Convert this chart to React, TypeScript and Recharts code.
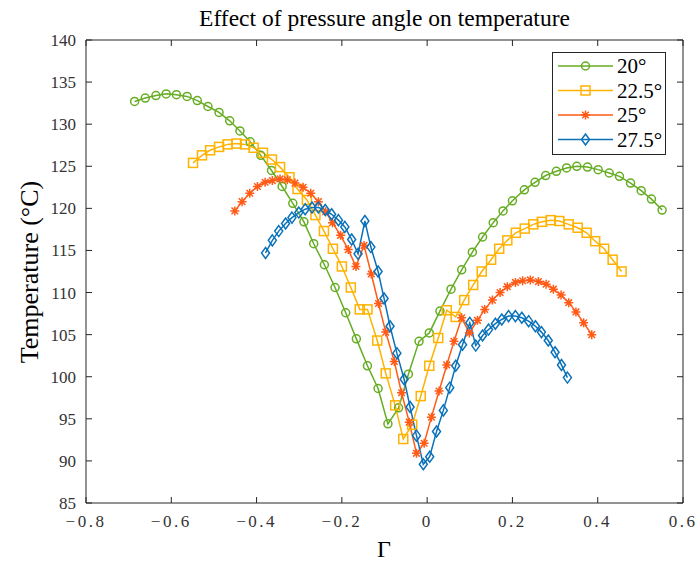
import { LineChart, Line, XAxis, YAxis, Legend } from "recharts";

// Γ values and temperatures (°C), one pair of arrays per pressure angle
const gamma20 = [
  -0.686, -0.661, -0.636, -0.612, -0.588, -0.563, -0.539, -0.514, -0.488, -0.463, -0.439, -0.415, -0.39,
  -0.365, -0.34, -0.315, -0.289, -0.266, -0.241, -0.216, -0.191, -0.166, -0.14, -0.115, -0.092, -0.067,
  -0.044, -0.019, 0.005, 0.03, 0.056, 0.081, 0.106, 0.13, 0.155, 0.178, 0.2, 0.228, 0.253, 0.278, 0.303,
  0.327, 0.351, 0.376, 0.401, 0.427, 0.451, 0.477, 0.502, 0.526, 0.551,
];
const temp20 = [
  132.7, 133.1, 133.4, 133.6, 133.5, 133.3, 132.8, 132.1, 131.4, 130.4, 129.2, 127.9, 126.3, 124.5, 122.6,
  120.6, 118.4, 115.8, 113.3, 110.6, 107.6, 104.5, 101.3, 98.6, 94.4, 96.3, 100.3, 104.2, 105.2, 107.8,
  110.4, 112.7, 114.8, 116.6, 118.3, 119.7, 120.9, 122.2, 123.1, 123.9, 124.4, 124.8, 125.0, 124.9, 124.6,
  124.2, 123.8, 123.0, 122.1, 121.1, 119.8,
];

const gamma225 = [
  -0.549, -0.528, -0.509, -0.488, -0.468, -0.447, -0.427, -0.407, -0.385, -0.364, -0.345, -0.323, -0.304,
  -0.282, -0.262, -0.242, -0.221, -0.2, -0.179, -0.158, -0.14, -0.117, -0.097, -0.075, -0.056, -0.035,
  -0.015, 0.005, 0.026, 0.046, 0.067, 0.087, 0.108, 0.128, 0.15, 0.169, 0.188, 0.208, 0.229, 0.249, 0.269,
  0.29, 0.31, 0.332, 0.353, 0.374, 0.394, 0.415, 0.435, 0.456,
];
const temp225 = [
  125.4, 126.3, 126.9, 127.3, 127.6, 127.7, 127.6, 127.2, 126.6, 125.8, 124.9, 123.7, 122.3, 121.0, 119.2,
  117.3, 115.2, 113.1, 110.6, 108.0, 108.0, 104.3, 100.4, 96.6, 92.6, 94.3, 97.7, 101.3, 104.6, 107.9,
  107.1, 109.1, 110.9, 112.5, 113.9, 115.2, 116.2, 117.1, 117.6, 118.1, 118.4, 118.6, 118.5, 118.1, 117.7,
  117.1, 116.1, 115.2, 113.9, 112.5,
];

const gamma25 = [
  -0.451, -0.434, -0.416, -0.398, -0.38, -0.363, -0.345, -0.328, -0.31, -0.291, -0.273, -0.255, -0.238,
  -0.222, -0.203, -0.185, -0.167, -0.148, -0.131, -0.114, -0.097, -0.077, -0.06, -0.042, -0.025, -0.007,
  0.01, 0.028, 0.046, 0.063, 0.081, 0.099, 0.118, 0.135, 0.153, 0.171, 0.188, 0.207, 0.224, 0.242, 0.261,
  0.279, 0.296, 0.314, 0.332, 0.349, 0.367, 0.386,
];
const temp25 = [
  119.7, 120.8, 121.8, 122.6, 123.1, 123.3, 123.5, 123.4, 123.0, 122.5, 121.8, 120.8, 119.6, 118.3, 116.8,
  115.1, 113.1, 115.6, 112.2, 108.7, 105.3, 101.8, 98.1, 94.6, 90.9, 92.1, 95.2, 98.3, 101.4, 104.2, 107.0,
  105.2, 106.7, 108.0, 109.1, 110.0, 110.7, 111.2, 111.4, 111.5, 111.3, 111.0, 110.4, 109.7, 108.8, 107.7,
  106.4, 105.0,
];

const gamma275 = [
  -0.379, -0.363, -0.348, -0.332, -0.317, -0.301, -0.286, -0.27, -0.255, -0.239, -0.224, -0.208, -0.193,
  -0.177, -0.162, -0.146, -0.132, -0.115, -0.101, -0.087, -0.071, -0.054, -0.04, -0.025, -0.009, 0.006,
  0.022, 0.038, 0.053, 0.067, 0.083, 0.1, 0.114, 0.13, 0.144, 0.16, 0.175, 0.191, 0.207, 0.222, 0.238,
  0.254, 0.268, 0.284, 0.3, 0.315, 0.329,
];
const temp275 = [
  114.7, 116.2, 117.3, 118.2, 118.9, 119.5, 119.9, 120.1, 120.1, 119.8, 119.3, 118.6, 117.8, 116.3, 114.6,
  118.5, 115.4, 112.5, 109.3, 106.0, 102.8, 99.7, 96.4, 93.0, 89.6, 90.5, 93.5, 96.0, 98.7, 101.3, 103.8,
  106.4, 103.7, 104.9, 105.6, 106.3, 106.8, 107.2, 107.2, 107.0, 106.6, 106.0, 105.3, 104.3, 102.9, 101.4,
  99.9,
];

const xTicks = [-0.8, -0.6, -0.4, -0.2, 0, 0.2, 0.4, 0.6];
const yTicks = [85, 90, 95, 100, 105, 110, 115, 120, 125, 130, 135, 140];

const series = [
  { name: "20°", color: "#66AD23", shape: "circle", gamma: gamma20, temp: temp20 },
  { name: "22.5°", color: "#FFB200", shape: "square", gamma: gamma225, temp: temp225 },
  { name: "25°", color: "#FF5A16", shape: "asterisk", gamma: gamma25, temp: temp25 },
  { name: "27.5°", color: "#0B72B9", shape: "diamond", gamma: gamma275, temp: temp275 },
];

const FONT = '"Liberation Serif", "Times New Roman", serif';
const AXIS = "#262626";

function Marker({ shape, cx, cy, color }: { shape: string; cx: number; cy: number; color: string }) {
  if (cx == null || cy == null) return null;
  if (shape === "circle")
    return <circle cx={cx} cy={cy} r={4} fill="none" stroke={color} strokeWidth={1.5} />;
  if (shape === "square")
    return <rect x={cx - 4.5} y={cy - 4.5} width={9} height={9} fill="none" stroke={color} strokeWidth={1.5} />;
  if (shape === "asterisk") {
    const a = 4.5;
    const b = 3.3;
    return (
      <path
        d={`M${cx - a},${cy}H${cx + a}M${cx},${cy - a}V${cy + a}M${cx - b},${cy - b}L${cx + b},${cy + b}M${cx - b},${cy + b}L${cx + b},${cy - b}`}
        stroke={color}
        strokeWidth={1.5}
        fill="none"
      />
    );
  }
  return (
    <path
      d={`M${cx},${cy - 5.5}L${cx + 4},${cy}L${cx},${cy + 5.5}L${cx - 4},${cy}Z`}
      fill="none"
      stroke={color}
      strokeWidth={1.5}
    />
  );
}

const fmtX = (v: number) => {
  if (v === 0) return "0";
  const s = Math.abs(v).toFixed(1);
  return v < 0 ? "\u2212" + s : s;
};

const tickText = { fontFamily: FONT, fontSize: 17 };

const BottomTick = ({ x, y, payload }: any) => (
  <g>
    <line x1={x} x2={x} y1={y} y2={y - 6} stroke={AXIS} />
    <text x={x} y={y + 24} textAnchor="middle" fill="#333" style={{ ...tickText, letterSpacing: 2.5 }}>
      {fmtX(payload.value)}
    </text>
  </g>
);

const TopTick = ({ x, y }: any) => <line x1={x} x2={x} y1={y} y2={y + 6} stroke={AXIS} />;

const LeftTick = ({ x, y, payload }: any) => (
  <g>
    <line x1={x} x2={x + 6} y1={y} y2={y} stroke={AXIS} />
    <text x={x - 10} y={y + 6} textAnchor="end" fill="#333" style={tickText}>
      {payload.value}
    </text>
  </g>
);

const RightTick = ({ x, y }: any) => <line x1={x} x2={x - 6} y1={y} y2={y} stroke={AXIS} />;

function LegendBox() {
  return (
    <svg width={115} height={104} style={{ display: "block" }}>
      <rect x={0.5} y={0.5} width={113} height={102} fill="#fff" stroke={AXIS} />
      {series.map((s, i) => {
        const cy = 14 + i * 24.5;
        return (
          <g key={s.name}>
            <line x1={6} x2={61} y1={cy} y2={cy} stroke={s.color} strokeWidth={1.5} />
            <Marker shape={s.shape} cx={33.5} cy={cy} color={s.color} />
            <text x={65} y={cy + 7} fill="#000" style={{ fontFamily: FONT, fontSize: 21 }}>
              {s.name}
            </text>
          </g>
        );
      })}
    </svg>
  );
}

export default function App() {
  return (
    <div style={{ position: "absolute", left: 0, top: 0, width: 699, height: 570, background: "#fff" }}>
      <div
        style={{
          position: "absolute",
          left: 86,
          width: 597,
          top: 5,
          textAlign: "center",
          fontFamily: FONT,
          fontSize: 23.5,
          lineHeight: "26px",
          color: "#000",
        }}
      >
        Effect of pressure angle on temperature
      </div>
      <div
        style={{
          position: "absolute",
          left: 30,
          top: 272,
          transform: "translate(-50%, -50%) rotate(-90deg)",
          whiteSpace: "nowrap",
          fontFamily: FONT,
          fontSize: 26,
          color: "#000",
        }}
      >
        Temperature (°C)
      </div>
      <div
        style={{
          position: "absolute",
          left: 384,
          top: 549,
          transform: "translate(-50%, -50%)",
          fontFamily: FONT,
          fontSize: 24,
          color: "#000",
        }}
      >
        Γ
      </div>
      <LineChart width={699} height={570} margin={{ top: 0, right: 0, bottom: 0, left: 0 }}>
        <XAxis
          xAxisId={0}
          type="number"
          dataKey="g"
          domain={[-0.8, 0.6]}
          ticks={xTicks}
          interval={0}
          allowDataOverflow
          height={67}
          tickSize={0}
          tickMargin={0}
          tickLine={false}
          axisLine={{ stroke: AXIS }}
          tick={<BottomTick />}
        />
        <XAxis
          xAxisId="top"
          orientation="top"
          type="number"
          dataKey="g"
          domain={[-0.8, 0.6]}
          ticks={xTicks}
          interval={0}
          allowDataOverflow
          height={40}
          tickSize={0}
          tickMargin={0}
          tickLine={false}
          axisLine={{ stroke: AXIS }}
          tick={<TopTick />}
        />
        <YAxis
          yAxisId={0}
          type="number"
          domain={[85, 140]}
          ticks={yTicks}
          interval={0}
          allowDataOverflow
          width={86}
          tickSize={0}
          tickMargin={0}
          tickLine={false}
          axisLine={{ stroke: AXIS }}
          tick={<LeftTick />}
        />
        <YAxis
          yAxisId="right"
          orientation="right"
          type="number"
          domain={[85, 140]}
          ticks={yTicks}
          interval={0}
          allowDataOverflow
          width={16}
          tickSize={0}
          tickMargin={0}
          tickLine={false}
          axisLine={{ stroke: AXIS }}
          tick={<RightTick />}
        />
        <Legend
          layout="vertical"
          align="center"
          verticalAlign="middle"
          content={() => <LegendBox />}
          wrapperStyle={{ left: 552, top: 52, width: 115, height: 104, right: "auto", bottom: "auto" }}
        />
        {series.map((s) => (
          <Line
            key={s.name}
            name={s.name}
            data={s.gamma.map((g, i) => ({ g, t: s.temp[i] }))}
            dataKey="t"
            type="linear"
            stroke={s.color}
            strokeWidth={1.5}
            dot={(p: any) => <Marker key={p.index} shape={s.shape} cx={p.cx} cy={p.cy} color={s.color} />}
            activeDot={false}
            isAnimationActive={false}
          />
        ))}
      </LineChart>
    </div>
  );
}
